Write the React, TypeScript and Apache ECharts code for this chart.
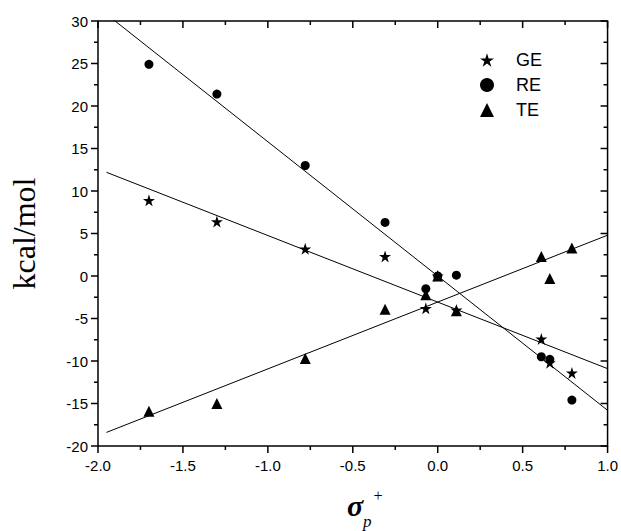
import React, { useEffect, useRef } from "react";
import * as echarts from "echarts";

const sigmaP = [-1.7, -1.3, -0.78, -0.31, -0.07, 0.0, 0.11, 0.61, 0.66, 0.79];
const geValues = [8.9, 6.4, 3.2, 2.3, -3.8, 0.0, -4.0, -7.4, -10.2, -11.4];
const reValues = [24.9, 21.4, 13.0, 6.3, -1.5, 0.0, 0.1, -9.5, -9.8, -14.6];
const teValues = [-15.9, -15.0, -9.7, -3.9, -2.2, 0.0, -4.1, 2.3, -0.3, 3.3];

const fitX = [-1.95, 1.0];
const geFit = [12.2, -10.9];
const reFit = [30.8, -15.8];
const teFit = [-18.4, 4.8];

const seriesNames = ["GE", "RE", "TE"];

const xMajorTicks = [-2.0, -1.5, -1.0, -0.5, 0.0, 0.5, 1.0];
const xMinorTicks = [-1.75, -1.25, -0.75, -0.25, 0.25, 0.75];
const yMajorTicks = [-20, -15, -10, -5, 0, 5, 10, 15, 20, 25, 30];
const yMinorTicks = [-17.5, -12.5, -7.5, -2.5, 2.5, 7.5, 12.5, 17.5, 22.5, 27.5];

const STAR =
  "path://M50,0 L61.17,34.63 L97.55,34.55 L68.07,55.87 L79.39,90.45 L50,69 L20.61,90.45 L31.93,55.87 L2.45,34.55 L38.83,34.63 Z";

const pairs = (xs: number[], ys: number[]) => xs.map((x, i) => [x, ys[i]]);

const W = 621;
const H = 531;
const GRID = { left: 88, right: 12, top: 21, bottom: 85 };
const X_MIN = -2;
const X_MAX = 1;
const Y_MIN = -20;
const Y_MAX = 30;

export default function App() {
  const ref = useRef<HTMLDivElement>(null);
  useEffect(() => {
    if (!ref.current) return;
    const chart = echarts.init(ref.current, undefined, { renderer: "svg" });
    const sans = "Liberation Sans";
    const serif = "Liberation Serif";
    const axisLine = { show: false, onZero: false };
    const noTick = { show: false };
    const fitStyle = {
      type: "line" as const,
      showSymbol: false,
      symbol: "none",
      clip: true,
      silent: true,
      lineStyle: { color: "#000", width: 1 },
      z: 1,
    };
    const markerStyle = { color: "#000", opacity: 1 };
    const titleTexts: any[] = [
      {
        type: "text",
        x: 347,
        y: 505,
        style: {
          text: "σ",
          fontFamily: serif,
          fontStyle: "italic",
          fontWeight: "bold",
          fontSize: 30,
          fill: "#000",
          align: "left",
          verticalAlign: "middle",
        },
      },
      {
        type: "text",
        x: 363,
        y: 521,
        style: {
          text: "p",
          fontFamily: serif,
          fontStyle: "italic",
          fontSize: 17,
          fill: "#000",
          align: "left",
          verticalAlign: "middle",
        },
      },
      {
        type: "text",
        x: 378,
        y: 495,
        style: {
          text: "+",
          fontFamily: serif,
          fontStyle: "italic",
          fontSize: 16,
          fill: "#000",
          align: "center",
          verticalAlign: "middle",
        },
      },
    ];

    const baseOption: any = {
      animation: false,
      backgroundColor: "#fff",
      grid: {
        ...GRID,
        containLabel: false,
        show: true,
        borderColor: "#000",
        borderWidth: 1.5,
        backgroundColor: "transparent",
      },
      legend: {
        data: seriesNames,
        orient: "vertical",
        left: 480,
        top: 51,
        padding: 0,
        itemWidth: 14,
        itemHeight: 14,
        itemGap: 7,
        itemStyle: { opacity: 1 },
        textStyle: {
          fontFamily: sans,
          fontSize: 18,
          lineHeight: 18,
          color: "#000",
          padding: [0, 0, 0, 17],
        },
      },
      xAxis: [
        {
          type: "value",
          position: "bottom",
          min: X_MIN,
          max: X_MAX,
          interval: 0.5,
          axisLine: { ...axisLine },
          axisTick: { ...noTick },
          minorTick: { ...noTick },
          splitLine: { show: false },
          axisLabel: {
            color: "#000",
            fontFamily: sans,
            fontSize: 15,
            margin: 12,
            formatter: (v: number) => v.toFixed(1),
          },
        },
        {
          type: "value",
          position: "top",
          min: X_MIN,
          max: X_MAX,
          interval: 0.5,
          axisLine: { ...axisLine },
          axisTick: { ...noTick },
          minorTick: { ...noTick },
          splitLine: { show: false },
          axisLabel: { show: false },
        },
      ],
      yAxis: [
        {
          type: "value",
          position: "left",
          min: Y_MIN,
          max: Y_MAX,
          interval: 5,
          name: "kcal/mol",
          nameLocation: "middle",
          nameGap: 58,
          nameRotate: 90,
          nameTextStyle: { fontFamily: serif, fontSize: 32, color: "#000" },
          axisLine: { ...axisLine },
          axisTick: { ...noTick },
          minorTick: { ...noTick },
          splitLine: { show: false },
          axisLabel: { color: "#000", fontFamily: sans, fontSize: 15, margin: 10 },
        },
        {
          type: "value",
          position: "right",
          min: Y_MIN,
          max: Y_MAX,
          interval: 5,
          axisLine: { ...axisLine },
          axisTick: { ...noTick },
          minorTick: { ...noTick },
          splitLine: { show: false },
          axisLabel: { show: false },
        },
      ],
      series: [
        { ...fitStyle, name: "GE fit", data: pairs(fitX, geFit) },
        { ...fitStyle, name: "RE fit", data: pairs(fitX, reFit) },
        { ...fitStyle, name: "TE fit", data: pairs(fitX, teFit) },
        {
          type: "scatter",
          name: "GE",
          symbol: STAR,
          symbolSize: 12,
          itemStyle: markerStyle,
          data: pairs(sigmaP, geValues),
          z: 2,
        },
        {
          type: "scatter",
          name: "RE",
          symbol: "circle",
          symbolSize: 9,
          itemStyle: markerStyle,
          data: pairs(sigmaP, reValues),
          z: 3,
        },
        {
          type: "scatter",
          name: "TE",
          symbol: "triangle",
          symbolSize: 11,
          itemStyle: markerStyle,
          data: pairs(sigmaP, teValues),
          z: 4,
        },
      ],
    };
    chart.setOption({ ...baseOption, graphic: titleTexts });

    // Pixel positions of axis values, through the chart's scale when available.
    const gl = GRID.left;
    const gr = W - GRID.right;
    const gt = GRID.top;
    const gb = H - GRID.bottom;
    const toX = (v: number) => {
      let p: any = NaN;
      try {
        p = chart.convertToPixel({ gridIndex: 0 } as any, [v, 0] as any);
      } catch (e) {
        p = NaN;
      }
      const px = Array.isArray(p) ? p[0] : p;
      if (typeof px === "number" && isFinite(px)) return px;
      return gl + ((v - X_MIN) / (X_MAX - X_MIN)) * (gr - gl);
    };
    const toY = (v: number) => {
      let p: any = NaN;
      try {
        p = chart.convertToPixel({ gridIndex: 0 } as any, [0, v] as any);
      } catch (e) {
        p = NaN;
      }
      const py = Array.isArray(p) ? p[1] : p;
      if (typeof py === "number" && isFinite(py)) return py;
      return gb - ((v - Y_MIN) / (Y_MAX - Y_MIN)) * (gb - gt);
    };
    const left = toX(X_MIN);
    const right = toX(X_MAX);
    const bottom = toY(Y_MIN);
    const top = toY(Y_MAX);
    const MAJ = 7;
    const MIN = 4;
    const tickLine = (x1: number, y1: number, x2: number, y2: number) => ({
      type: "line",
      silent: true,
      z: 100,
      shape: { x1, y1, x2, y2 },
      style: { stroke: "#000", lineWidth: 1.5, fill: null },
    });
    const ticks: any[] = [];
    xMajorTicks.forEach((v) => {
      const px = toX(v);
      ticks.push(tickLine(px, bottom, px, bottom + MAJ));
      ticks.push(tickLine(px, top, px, top + MAJ));
    });
    xMinorTicks.forEach((v) => {
      const px = toX(v);
      ticks.push(tickLine(px, bottom, px, bottom + MIN));
      ticks.push(tickLine(px, top, px, top + MIN));
    });
    yMajorTicks.forEach((v) => {
      const py = toY(v);
      ticks.push(tickLine(left - MAJ, py, left, py));
      ticks.push(tickLine(right - MAJ, py, right, py));
    });
    yMinorTicks.forEach((v) => {
      const py = toY(v);
      ticks.push(tickLine(left - MIN, py, left, py));
      ticks.push(tickLine(right - MIN, py, right, py));
    });
    chart.setOption({ graphic: [...titleTexts, ...ticks] });
    return () => chart.dispose();
  }, []);
  return (
    <div
      ref={ref}
      style={{ position: "absolute", left: 0, top: 0, width: W, height: H }}
    />
  );
}
